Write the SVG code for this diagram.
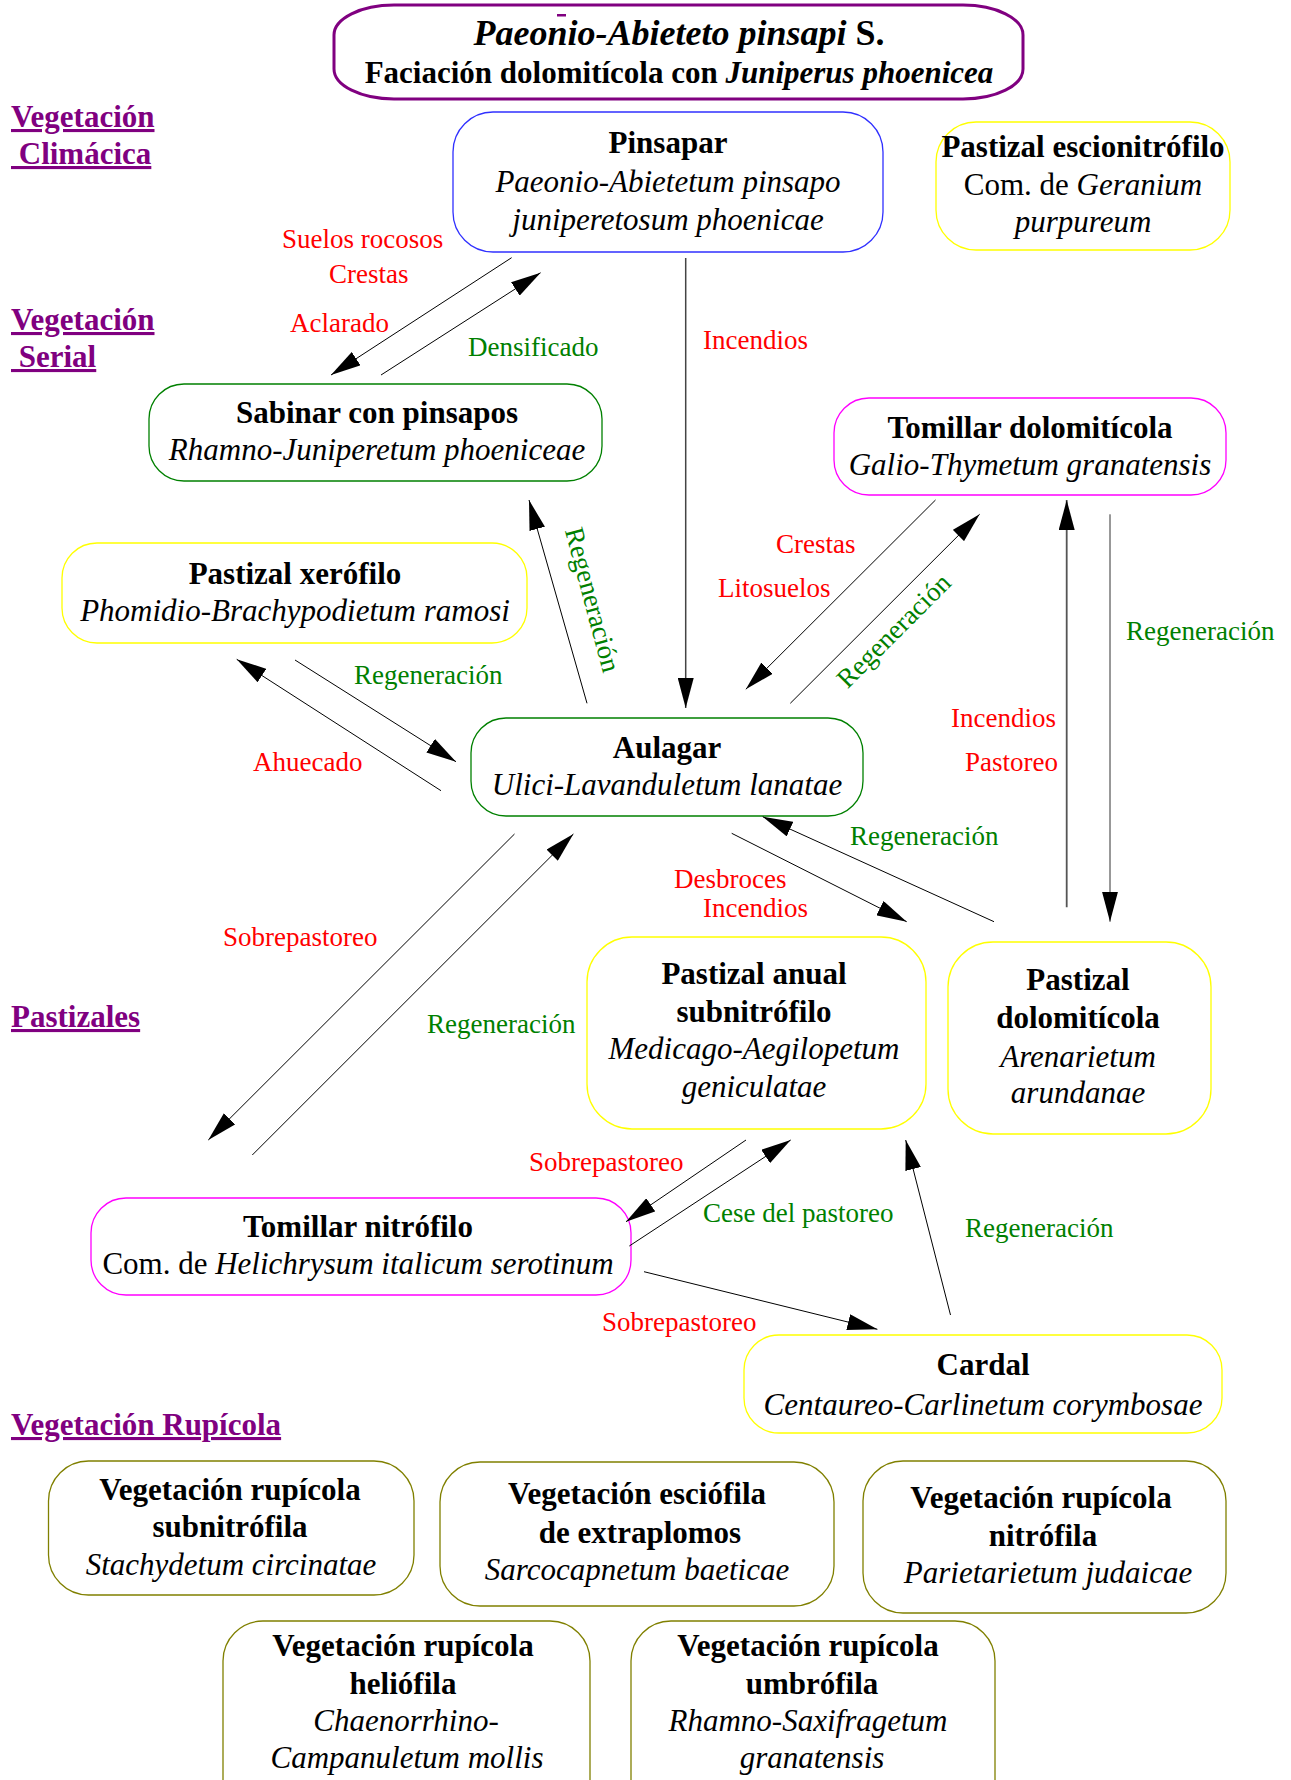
<svg xmlns="http://www.w3.org/2000/svg" width="1291" height="1780" viewBox="0 0 1291 1780">
<style>
text{font-family:'Liberation Serif','Times New Roman',serif}
.t{font-size:31px;text-anchor:middle;fill:#000}
.b{font-weight:bold}
.i{font-style:italic}
.lab{font-size:27px}
.red{fill:#ff0000}
.grn{fill:#008000}
.sec{font-size:31px;font-weight:bold;fill:#800080;text-decoration:underline}
.box{fill:none;stroke-width:1.3}
.yel{stroke:#ffff00}
.olv{stroke:#808000}
.mag{stroke:#ff00ff}
.gbox{stroke:#008000}
.con line{stroke:#000;stroke-width:1;marker-end:url(#ah)}
</style>
<defs>
<marker id="ah" markerUnits="userSpaceOnUse" viewBox="0 0 30 16" markerWidth="30" markerHeight="16" refX="30" refY="8" orient="auto">
<path d="M0,0 L30,8 L0,16 z" fill="#000"/>
</marker>
</defs>
<rect width="1291" height="1780" fill="#fff"/>

<g id="title">
<rect x="334" y="5" width="689" height="94" rx="60" ry="30" fill="none" stroke="#800080" stroke-width="3"/>
<rect x="557" y="14" width="9" height="2.5" fill="#800080"/>
<text x="679" y="45" class="t b" style="font-size:36px"><tspan class="i">Paeonio-Abieteto pinsapi</tspan> S.</text>
<text x="679" y="83" class="t b">Faciación dolomitícola con <tspan class="i">Juniperus phoenicea</tspan></text>
</g>

<g id="sections">
<text x="11" y="127" class="sec">Vegetación</text>
<text x="11" y="164" class="sec" xml:space="preserve"> Climácica</text>
<text x="11" y="330" class="sec">Vegetación</text>
<text x="11" y="367" class="sec" xml:space="preserve"> Serial</text>
<text x="11" y="1027" class="sec">Pastizales</text>
<text x="11" y="1435" class="sec">Vegetación Rupícola</text>
</g>

<g id="pinsapar">
<rect x="453" y="112" width="430" height="140" rx="40" class="box" stroke="#3030ff"/>
<text x="668" y="153" class="t b">Pinsapar</text>
<text x="668" y="192" class="t i">Paeonio-Abietetum pinsapo</text>
<text x="668" y="230" class="t i">juniperetosum phoenicae</text>
</g>

<g id="escionitrofilo">
<rect x="936" y="122" width="294" height="128" rx="40" class="box yel"/>
<text x="1083" y="157" class="t b">Pastizal escionitrófilo</text>
<text x="1083" y="195" class="t">Com. de <tspan class="i">Geranium</tspan></text>
<text x="1083" y="232" class="t i">purpureum</text>
</g>

<g id="sabinar">
<rect x="149" y="384" width="453" height="97" rx="35" class="box gbox"/>
<text x="377" y="423" class="t b">Sabinar con pinsapos</text>
<text x="377" y="460" class="t i">Rhamno-Juniperetum phoeniceae</text>
</g>

<g id="tomillar-dolomiticola">
<rect x="834" y="398" width="392" height="97" rx="35" class="box mag"/>
<text x="1030" y="438" class="t b">Tomillar dolomitícola</text>
<text x="1030" y="475" class="t i">Galio-Thymetum granatensis</text>
</g>

<g id="pastizal-xerofilo">
<rect x="62" y="543" width="465" height="100" rx="35" class="box yel"/>
<text x="295" y="584" class="t b">Pastizal xerófilo</text>
<text x="295" y="621" class="t i">Phomidio-Brachypodietum ramosi</text>
</g>

<g id="aulagar">
<rect x="471" y="718" width="392" height="98" rx="35" class="box gbox"/>
<text x="667" y="758" class="t b">Aulagar</text>
<text x="667" y="795" class="t i">Ulici-Lavanduletum lanatae</text>
</g>

<g id="pastizal-anual">
<rect x="587" y="937" width="339" height="192" rx="45" class="box yel"/>
<text x="754" y="984" class="t b">Pastizal anual</text>
<text x="754" y="1022" class="t b">subnitrófilo</text>
<text x="754" y="1059" class="t i">Medicago-Aegilopetum</text>
<text x="754" y="1097" class="t i">geniculatae</text>
</g>

<g id="pastizal-dolomiticola">
<rect x="948" y="942" width="263" height="192" rx="45" class="box yel"/>
<text x="1078" y="990" class="t b">Pastizal</text>
<text x="1078" y="1028" class="t b">dolomitícola</text>
<text x="1078" y="1067" class="t i">Arenarietum</text>
<text x="1078" y="1103" class="t i">arundanae</text>
</g>

<g id="tomillar-nitrofilo">
<rect x="91" y="1198" width="540" height="97" rx="35" class="box mag"/>
<text x="358" y="1237" class="t b">Tomillar nitrófilo</text>
<text x="358" y="1274" class="t">Com. de <tspan class="i">Helichrysum italicum serotinum</tspan></text>
</g>

<g id="cardal">
<rect x="744" y="1335" width="478" height="98" rx="35" class="box yel"/>
<text x="983" y="1375" class="t b">Cardal</text>
<text x="983" y="1415" class="t i">Centaureo-Carlinetum corymbosae</text>
</g>

<g id="rupicola-subnitrofila">
<rect x="48.5" y="1461" width="365.5" height="134" rx="40" class="box olv"/>
<text x="230" y="1500" class="t b">Vegetación rupícola</text>
<text x="230" y="1537" class="t b">subnitrófila</text>
<text x="231" y="1575" class="t i">Stachydetum circinatae</text>
</g>

<g id="rupicola-esciofila">
<rect x="440" y="1462" width="394" height="144" rx="40" class="box olv"/>
<text x="637" y="1504" class="t b">Vegetación esciófila</text>
<text x="640" y="1543" class="t b">de extraplomos</text>
<text x="637" y="1580" class="t i">Sarcocapnetum baeticae</text>
</g>

<g id="rupicola-nitrofila">
<rect x="863" y="1461" width="363" height="152" rx="40" class="box olv"/>
<text x="1041" y="1508" class="t b">Vegetación rupícola</text>
<text x="1043" y="1546" class="t b">nitrófila</text>
<text x="1048" y="1583" class="t i">Parietarietum judaicae</text>
</g>

<g id="rupicola-heliofila">
<rect x="223" y="1621" width="367" height="200" rx="40" class="box olv"/>
<text x="403" y="1656" class="t b">Vegetación rupícola</text>
<text x="403" y="1694" class="t b">heliófila</text>
<text x="406" y="1731" class="t i">Chaenorrhino-</text>
<text x="407" y="1768" class="t i">Campanuletum mollis</text>
</g>

<g id="rupicola-umbrofila">
<rect x="631" y="1621" width="364" height="200" rx="40" class="box olv"/>
<text x="808" y="1656" class="t b">Vegetación rupícola</text>
<text x="812" y="1694" class="t b">umbrófila</text>
<text x="808" y="1731" class="t i">Rhamno-Saxifragetum</text>
<text x="812" y="1768" class="t i">granatensis</text>
</g>

<g id="connectors" class="con">
<line x1="511.6" y1="257.7" x2="331" y2="375"/>
<line x1="381" y1="375" x2="540.6" y2="272.7"/>
<line x1="685.7" y1="258" x2="685.7" y2="708" style="stroke:#444;stroke-width:1.5"/>
<line x1="935.5" y1="500" x2="745.8" y2="689.3"/>
<line x1="790.3" y1="703.3" x2="979.6" y2="514.3"/>
<line x1="1066.7" y1="907.3" x2="1066.7" y2="500" style="stroke:#555;stroke-width:1.8"/>
<line x1="1110" y1="514.3" x2="1110" y2="921.7" style="stroke:#333"/>
<line x1="587" y1="703.3" x2="529" y2="500"/>
<line x1="295" y1="660" x2="456" y2="761.7"/>
<line x1="441" y1="790.7" x2="236.7" y2="659.3"/>
<line x1="994" y1="921.7" x2="762.7" y2="816.7"/>
<line x1="731.7" y1="833.3" x2="906.7" y2="921.7"/>
<line x1="514.5" y1="834" x2="208.3" y2="1140"/>
<line x1="252.3" y1="1155" x2="573.4" y2="834"/>
<line x1="746" y1="1140" x2="626" y2="1221.7"/>
<line x1="629.3" y1="1246" x2="790.7" y2="1140"/>
<line x1="644" y1="1271.7" x2="877.4" y2="1329.3"/>
<line x1="950.5" y1="1315" x2="905.7" y2="1140"/>
</g>

<g id="labels" class="lab">
<text x="282" y="248" class="lab red">Suelos rocosos</text>
<text x="329" y="283" class="lab red">Crestas</text>
<text x="290" y="332" class="lab red">Aclarado</text>
<text x="468" y="356" class="lab grn">Densificado</text>
<text x="703" y="349" class="lab red">Incendios</text>
<text x="776" y="553" class="lab red">Crestas</text>
<text x="718" y="597" class="lab red">Litosuelos</text>
<text class="lab grn" text-anchor="middle" transform="translate(900,637) rotate(-45)">Regeneración</text>
<text x="1126" y="640" class="lab grn">Regeneración</text>
<text x="951" y="727" class="lab red">Incendios</text>
<text x="965" y="771" class="lab red">Pastoreo</text>
<text class="lab grn" text-anchor="middle" transform="translate(584,602) rotate(75)">Regeneración</text>
<text x="354" y="684" class="lab grn">Regeneración</text>
<text x="253" y="771" class="lab red">Ahuecado</text>
<text x="850" y="845" class="lab grn">Regeneración</text>
<text x="674" y="888" class="lab red">Desbroces</text>
<text x="703" y="917" class="lab red">Incendios</text>
<text x="223" y="946" class="lab red">Sobrepastoreo</text>
<text x="427" y="1033" class="lab grn">Regeneración</text>
<text x="529" y="1171" class="lab red">Sobrepastoreo</text>
<text x="703" y="1222" class="lab grn">Cese del pastoreo</text>
<text x="602" y="1331" class="lab red">Sobrepastoreo</text>
<text x="965" y="1237" class="lab grn">Regeneración</text>
</g>
</svg>
